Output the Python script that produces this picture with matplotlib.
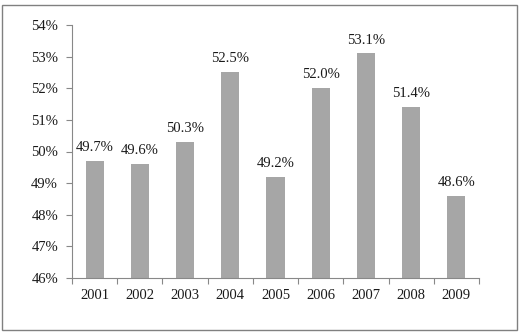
import numpy as np
import matplotlib.pyplot as plt
from matplotlib.patches import Rectangle
from matplotlib.ticker import FixedLocator, PercentFormatter

years = ['2001', '2002', '2003', '2004', '2005', '2006', '2007', '2008', '2009']
values = [49.7, 49.6, 50.3, 52.5, 49.2, 52.0, 53.1, 51.4, 48.6]
labels = ['49.7%', '49.6%', '50.3%', '52.5%', '49.2%', '52.0%', '53.1%', '51.4%', '48.6%']

plt.rcParams['font.family'] = ['Liberation Serif', 'DejaVu Serif']

fig = plt.figure(figsize=(5.2, 3.34), dpi=100)
ax = fig.add_axes([72/520, 1 - 278/334, (479-72)/520, (278-25)/334])

x = np.arange(len(years))
ax.bar(x, [v - 46 for v in values], bottom=46, width=0.4, color='#a6a6a6', zorder=2)

# Value labels above each bar
for xi, v, lab in zip(x, values, labels):
    ax.annotate(lab, (xi, v), xytext=(0, 5), textcoords='offset points',
                ha='center', va='bottom', fontsize=10.5, color='#1a1a1a')

ax.set_xlim(-0.5, len(years) - 0.5)
ax.set_ylim(46, 54)
ax.set_yticks(np.arange(46, 54.1, 1))
ax.yaxis.set_major_formatter(PercentFormatter(decimals=0))
ax.set_xticks(x)
ax.set_xticklabels(years)
ax.xaxis.set_minor_locator(FixedLocator(np.arange(-0.5, len(years), 1)))
ax.tick_params(axis='x', which='major', length=0, pad=8, labelsize=10.5, labelcolor='#1a1a1a')
ax.tick_params(axis='x', which='minor', length=4, color='#888888', width=0.8)
ax.tick_params(axis='y', length=4, color='#888888', width=0.8, pad=6, labelsize=10.5, labelcolor='#1a1a1a')

for side in ['top', 'right']:
    ax.spines[side].set_visible(False)
for side in ['left', 'bottom']:
    ax.spines[side].set_color('#888888')
    ax.spines[side].set_linewidth(0.8)

# Outer frame around the chart
fig.patches.append(Rectangle((2/520, 4/334), 515/520, 325/334, transform=fig.transFigure,
                             fill=False, edgecolor='#808080', linewidth=1.0))

fig.savefig('out.png', dpi=100)
plt.close('all')
